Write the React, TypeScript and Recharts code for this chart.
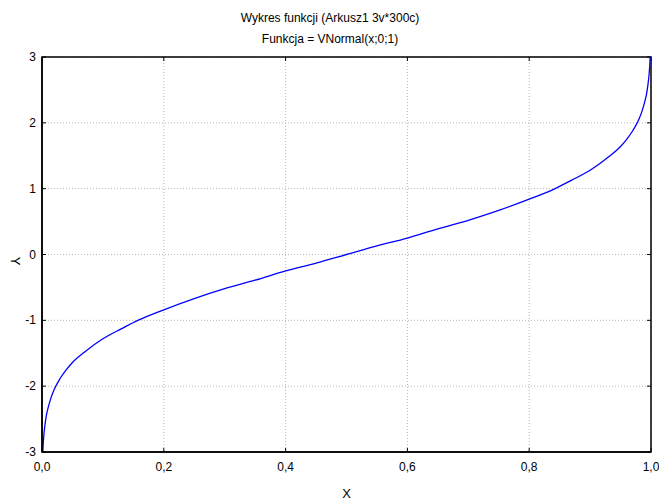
import React from 'react';
import { LineChart, Line, XAxis, YAxis, CartesianGrid } from 'recharts';

// values
const xValues = [
    0.00135, 0.002, 0.003, 0.005, 0.0075, 0.01, 0.015, 0.02, 0.03, 0.04, 0.05, 0.07, 0.1, 0.13, 0.16, 0.2,
    0.25, 0.3, 0.35, 0.4, 0.45, 0.5, 0.55, 0.6, 0.65, 0.7, 0.75, 0.8, 0.84, 0.87, 0.9, 0.93, 0.95, 0.96,
    0.97, 0.98, 0.985, 0.99, 0.9925, 0.995, 0.997, 0.998, 0.99865,
];
const yValues = [
    -3.0, -2.88, -2.75, -2.58, -2.43, -2.33, -2.17, -2.05, -1.88, -1.75, -1.64, -1.48, -1.28, -1.13, -0.99, -0.84,
    -0.67, -0.52, -0.39, -0.25, -0.13, 0, 0.13, 0.25, 0.39, 0.52, 0.67, 0.84, 0.99, 1.13, 1.28, 1.48, 1.64, 1.75,
    1.88, 2.05, 2.17, 2.33, 2.43, 2.58, 2.75, 2.88, 3.0,
];
const xTicks = [0, 0.2, 0.4, 0.6, 0.8, 1];
const yTicks = [-3, -2, -1, 0, 1, 2, 3];
const titleLines = ['Wykres funkcji (Arkusz1 3v*300c)', 'Funkcja = VNormal(x;0;1)'];

const data = xValues.map((x, i) => ({ x, y: yValues[i] }));

const W = 659;
const H = 500;
const MARGIN = { top: 57, right: 8, bottom: 0, left: 0 };
const Y_AXIS_W = 42;
const X_AXIS_H = 48;
const PLOT_X = MARGIN.left + Y_AXIS_W;
const PLOT_W = W - PLOT_X - MARGIN.right;
const PLOT_H = H - MARGIN.top - MARGIN.bottom - X_AXIS_H;
const TICK = 4;

const FONT = '"Liberation Sans", Arial, sans-serif';
const fmtX = (v: number) => v.toFixed(1).replace('.', ',');

const BottomTick = (p: any) => (
    <g>
        <line x1={p.x} y1={p.y} x2={p.x} y2={p.y - TICK} stroke="#000" />
        <text x={p.x} y={p.y + 19} textAnchor="middle" fontSize={12} fontFamily={FONT} fill="#000">{fmtX(p.payload.value)}</text>
    </g>
);
const LeftTick = (p: any) => (
    <g>
        <line x1={p.x} y1={p.y} x2={p.x + TICK} y2={p.y} stroke="#000" />
        <text x={p.x - 6} y={p.y + 4} textAnchor="end" fontSize={12} fontFamily={FONT} fill="#000">{p.payload.value}</text>
    </g>
);

// grid lines: dotted grey, plus the inward tick on the right / top edge
const HLine = (p: any) => {
    const right = Math.max(p.x1, p.x2);
    return (
        <g key={p.key ?? `h${p.index}`}>
            <line x1={p.x1} y1={p.y1} x2={p.x2} y2={p.y2} stroke="#b8b8b8" strokeDasharray="1 2" />
            <line x1={right - TICK} y1={p.y1} x2={right} y2={p.y1} stroke="#000" />
        </g>
    );
};
const VLine = (p: any) => {
    const top = Math.min(p.y1, p.y2);
    return (
        <g key={p.key ?? `v${p.index}`}>
            <line x1={p.x1} y1={p.y1} x2={p.x2} y2={p.y2} stroke="#b8b8b8" strokeDasharray="1 2" />
            <line x1={p.x1} y1={top} x2={p.x1} y2={top + TICK} stroke="#000" />
        </g>
    );
};

export default function App() {
    return (
        <div style={{ position: 'absolute', left: 0, top: 0, width: W, height: H, background: '#fff' }}>
            <LineChart width={W} height={H} data={data} margin={MARGIN}>
                <CartesianGrid horizontal={HLine} vertical={VLine} />
                <XAxis dataKey="x" type="number" domain={[0, 1]} ticks={xTicks} height={X_AXIS_H} tickSize={0} tickMargin={0}
                    tick={BottomTick} axisLine={{ stroke: '#000', strokeWidth: 1.5 }} tickLine={false} allowDataOverflow
                    label={{ value: 'X', position: 'insideBottom', offset: 2, fontSize: 13, fontFamily: FONT, fill: '#000' }} />
                <YAxis type="number" domain={[-3, 3]} ticks={yTicks} width={Y_AXIS_W} tickSize={0} tickMargin={0}
                    tick={LeftTick} axisLine={{ stroke: '#000', strokeWidth: 1.5 }} tickLine={false} allowDataOverflow />
                <Line dataKey="y" type="monotone" stroke="#0000ff" strokeWidth={1.3} dot={false} isAnimationActive={false} />
                {/* plot frame */}
                <rect x={PLOT_X} y={MARGIN.top} width={PLOT_W} height={PLOT_H} fill="none" stroke="#000" strokeWidth={1.5} />
                <text x={330} y={22} textAnchor="middle" fontSize={12} fontFamily={FONT} fill="#000">{titleLines[0]}</text>
                <text x={330} y={43} textAnchor="middle" fontSize={12} fontFamily={FONT} fill="#000">{titleLines[1]}</text>
                <text x={15} y={261} textAnchor="middle" dominantBaseline="central" transform="rotate(90 15 261)"
                    fontSize={13} fontFamily={FONT} fill="#000">Y</text>
            </LineChart>
        </div>
    );
}
